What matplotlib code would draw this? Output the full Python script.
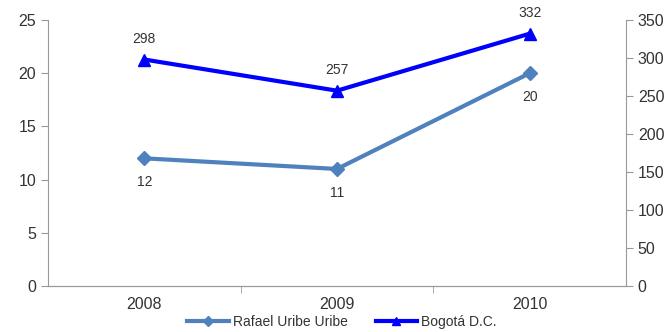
import matplotlib.pyplot as plt
import numpy as np

plt.rcParams['font.family'] = ['Liberation Sans', 'DejaVu Sans']

years = ['2008', '2009', '2010']
rafael = [12, 11, 20]
bogota = [298, 257, 332]

fig = plt.figure(figsize=(6.72, 3.32), dpi=100)
ax = fig.add_axes([48/672, 1 - 286/332, (626 - 48)/672, (286 - 20)/332])
ax2 = ax.twinx()

x = np.arange(len(years))
text_c = '#333333'
spine_c = '#999999'

ax.plot(x, rafael, color='#4F81BD', lw=3, marker='D', ms=7, zorder=3)
ax2.plot(x, bogota, color='#0000FF', lw=3, marker='^', ms=9, zorder=3)

for xi, v in zip(x, rafael):
    ax.annotate(str(v), (xi, v), xytext=(0, -12), textcoords='offset points',
                ha='center', va='top', fontsize=10, color=text_c)
for xi, v in zip(x, bogota):
    ax2.annotate(str(v), (xi, v), xytext=(0, 10), textcoords='offset points',
                 ha='center', va='bottom', fontsize=10, color=text_c)

ax.set_xlim(-0.5, 2.5)
ax.set_ylim(0, 25)
ax.set_yticks(range(0, 26, 5))
ax2.set_ylim(0, 350)
ax2.set_yticks(range(0, 351, 50))

ax.set_xticks(x)
ax.set_xticklabels(years)
ax.set_xticks([0.5, 1.5], minor=True)
ax.tick_params(axis='x', which='major', length=0, pad=8, labelsize=11.5, labelcolor=text_c)
ax.tick_params(axis='x', which='minor', length=5, direction='out', color=spine_c)
ax.tick_params(axis='y', length=5, direction='out', color=spine_c, labelsize=11.5, labelcolor=text_c)
ax2.tick_params(axis='y', length=5, direction='out', color=spine_c, labelsize=11.5, labelcolor=text_c)

for a in (ax, ax2):
    a.spines['top'].set_visible(False)
    for s in ('left', 'right', 'bottom'):
        a.spines[s].set_color(spine_c)
ax.spines['right'].set_visible(False)
ax2.spines['left'].set_visible(False)

h1, = ax.plot([], [], color='#4F81BD', lw=3, marker='D', ms=5)
h2, = ax2.plot([], [], color='#0000FF', lw=3, marker='^', ms=6)
fig.legend([h1, h2], ['Rafael Uribe Uribe', 'Bogotá D.C.'], loc='center',
           bbox_to_anchor=(342/672, 1 - 322/332), ncol=2, frameon=False,
           fontsize=10, handlelength=3, columnspacing=2.0, handletextpad=0.3,
           labelcolor=text_c)

fig.savefig('out.png', dpi=100)
